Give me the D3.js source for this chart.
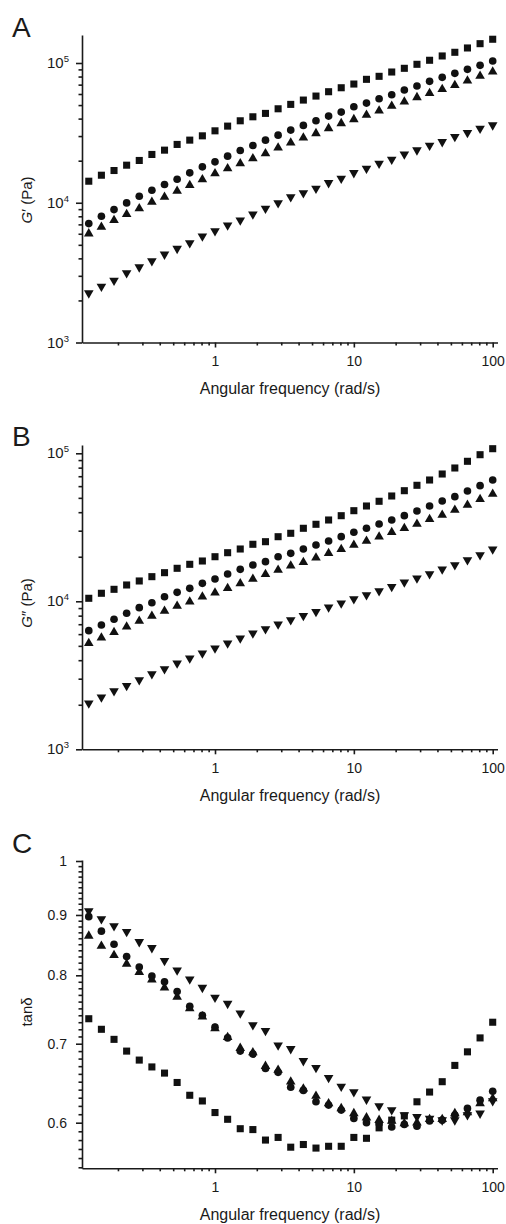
<!DOCTYPE html>
<html>
<head>
<meta charset="utf-8">
<script src="https://cdn.jsdelivr.net/npm/d3@7"></script>
<style>
  body { margin: 0; background: #fff; }
  svg text { font-family: "Liberation Sans", Arial, sans-serif; fill: #1a1a1a; }
</style>
</head>
<body>
<div id="chart"></div>
<script>
// Angular frequency (rad/s), 11 points per decade
const freq = [0.1233, 0.1520, 0.1874, 0.2310, 0.2848, 0.3511, 0.4329, 0.5337, 0.6579, 0.8111,
  1.000, 1.233, 1.520, 1.874, 2.310, 2.848, 3.511, 4.329, 5.337, 6.579, 8.111,
  10.00, 12.33, 15.20, 18.74, 23.10, 28.48, 35.11, 43.29, 53.37, 65.79, 81.11, 100.0];

// A: G' (Pa)
const gpSquare = [14260, 15740, 17010, 18570, 20070, 22160, 23790, 26140, 28060, 30120, 32710, 35350, 38590, 41220, 43590, 47030, 50570, 54290, 57990, 62300, 66510, 70710, 76410, 80290, 86200, 91620, 97880, 104600, 112300, 119300, 128100, 137500, 147900];
const gpCircle = [7094, 8002, 8940, 9968, 11130, 12290, 13510, 14740, 16360, 18060, 19620, 21540, 23670, 25700, 28060, 30470, 33090, 35760, 38590, 41700, 44540, 48610, 51680, 55470, 59270, 64070, 68420, 73920, 78990, 84390, 90110, 96270, 103350];
const gpUp = [6015, 6706, 7492, 8272, 9087, 10130, 11000, 12150, 13350, 14670, 16190, 17590, 19100, 20740, 22520, 24710, 26840, 29150, 31340, 34030, 36960, 39480, 42390, 45510, 49180, 52800, 56770, 60650, 64800, 69210, 74660, 80680, 86620];
const gpDown = [2256, 2520, 2782, 3140, 3465, 3826, 4273, 4695, 5149, 5753, 6278, 6898, 7492, 8272, 9087, 9968, 11000, 11760, 12640, 13870, 14910, 16360, 17590, 19100, 20400, 22270, 23790, 25700, 27280, 29630, 31650, 34030, 35940];

// B: G'' (Pa)
const gppSquare = [10480, 11330, 12050, 12890, 13720, 14670, 15610, 16710, 17780, 18720, 20010, 21300, 22560, 24280, 25280, 27320, 28810, 31140, 33140, 35430, 37880, 40950, 44050, 47400, 51470, 55890, 60790, 66000, 72460, 79570, 88300, 97840, 107420];
const gppCircle = [6330, 6917, 7558, 8298, 9053, 9783, 10740, 11500, 12240, 13230, 14150, 15290, 16450, 17590, 18520, 20010, 21100, 22560, 24010, 25550, 27320, 29260, 31140, 33290, 35430, 37880, 40750, 44050, 47610, 50910, 55640, 60410, 66000];
const gppUp = [5202, 5677, 6173, 6735, 7361, 7957, 8601, 9294, 9938, 10740, 11430, 12240, 13190, 14150, 15220, 16280, 17400, 18340, 19710, 21100, 22460, 24010, 25550, 27320, 29260, 31140, 33290, 35820, 38300, 41400, 44740, 48900, 53090];
const gppDown = [2046, 2246, 2477, 2690, 2939, 3227, 3488, 3811, 4120, 4452, 4813, 5202, 5623, 6078, 6499, 6992, 7474, 7993, 8505, 9109, 9694, 10360, 11030, 11740, 12550, 13440, 14300, 15290, 16450, 17590, 19010, 20550, 22460];

// C: tan delta
const tanSquare = [0.735, 0.720, 0.706, 0.690, 0.678, 0.669, 0.661, 0.649, 0.633, 0.626, 0.612, 0.604, 0.593, 0.592, 0.580, 0.583, 0.572, 0.575, 0.571, 0.573, 0.573, 0.583, 0.582, 0.594, 0.603, 0.608, 0.625, 0.637, 0.650, 0.671, 0.689, 0.708, 0.730];
const tanCircle = [0.897, 0.872, 0.850, 0.830, 0.813, 0.799, 0.790, 0.775, 0.753, 0.740, 0.723, 0.708, 0.690, 0.686, 0.667, 0.662, 0.643, 0.639, 0.625, 0.621, 0.615, 0.605, 0.600, 0.599, 0.595, 0.598, 0.596, 0.602, 0.603, 0.609, 0.617, 0.627, 0.638];
const tanUp = [0.864, 0.847, 0.832, 0.818, 0.805, 0.793, 0.781, 0.767, 0.750, 0.738, 0.721, 0.709, 0.694, 0.688, 0.670, 0.665, 0.650, 0.641, 0.632, 0.623, 0.617, 0.611, 0.606, 0.603, 0.602, 0.599, 0.600, 0.604, 0.604, 0.611, 0.612, 0.623, 0.629];
const tanDown = [0.907, 0.893, 0.881, 0.871, 0.854, 0.844, 0.823, 0.808, 0.794, 0.781, 0.766, 0.757, 0.743, 0.726, 0.718, 0.698, 0.693, 0.677, 0.668, 0.655, 0.644, 0.637, 0.628, 0.620, 0.615, 0.609, 0.607, 0.605, 0.603, 0.603, 0.609, 0.611, 0.626];

// Tick labels
const xTicks = [1, 10, 100];
const modTicks = [1e3, 1e4, 1e5];
const tanTicks = [0.6, 0.7, 0.8, 0.9, 1];

const svg = d3.select("#chart")
  .append("svg")
    .attr("width", 506)
    .attr("height", 1224);

// shared x scale: 1 rad/s at 215px, 100 rad/s at 492.7px
const left = 82, right = 497.5;
const xRef = d3.scaleLog().domain([1, 100]).range([215, 492.7]);
const x = d3.scaleLog()
  .domain([xRef.invert(left), xRef.invert(right)])
  .range([left, right]);

const panels = [
  { letter: "A", letterY: 37, top: 35, bottom: 342.5, refDomain: [1e3, 1e5], refRange: [342.5, 63],
    title: ["G", "\u2032 (Pa)"], titleY: 200, series: [gpSquare, gpCircle, gpUp, gpDown] },
  { letter: "B", letterY: 446, top: 445, bottom: 749.3, refDomain: [1e3, 1e5], refRange: [749.3, 453.3],
    title: ["G", "\u2033 (Pa)"], titleY: 603, series: [gppSquare, gppCircle, gppUp, gppDown] },
  { letter: "C", letterY: 853, top: 860, bottom: 1168.3, refDomain: [0.6, 1], refRange: [1122.7, 861],
    title: null, titleY: 1012, series: [tanSquare, tanCircle, tanUp, tanDown], tan: true }
];

const shapes = [
  { type: d3.symbolSquare, size: 50, rot: 0 },
  { type: d3.symbolCircle, size: 46, rot: 0 },
  { type: d3.symbolTriangle, size: 40, rot: 0 },
  { type: d3.symbolTriangle, size: 40, rot: 180 }
];

panels.forEach(p => {
  const yRef = d3.scaleLog().domain(p.refDomain).range(p.refRange);
  const y = d3.scaleLog()
    .domain([yRef.invert(p.bottom), yRef.invert(p.top)])
    .range([p.bottom, p.top]);

  const g = svg.append("g");

  // panel letter
  g.append("text")
    .attr("x", 12).attr("y", p.letterY)
    .style("font-size", "28px")
    .text(p.letter);

  // x axis: minor ticks, then major ticks with labels
  const xMinor = x.ticks().filter(v => !xTicks.includes(v));
  g.append("g")
    .attr("transform", `translate(0,${p.bottom})`)
    .call(d3.axisBottom(x).tickValues(xMinor).tickSize(3).tickFormat(""))
    .call(a => a.select(".domain").remove());
  const xa = g.append("g")
    .attr("transform", `translate(0,${p.bottom})`)
    .call(d3.axisBottom(x).tickValues(xTicks).tickSize(5).tickSizeOuter(0).tickPadding(9).tickFormat(d3.format("d")));
  xa.selectAll("text").style("font-size", "14px").attr("fill", "#1a1a1a");

  // y axis
  let yMinor, yMajor;
  if (p.tan) {
    yMajor = tanTicks;
    yMinor = d3.range(55, 100).map(v => v / 100).filter(v => !tanTicks.some(t => Math.abs(t - v) < 1e-9));
  } else {
    yMajor = modTicks;
    yMinor = y.ticks().filter(v => !modTicks.includes(v));
  }
  g.append("g")
    .attr("transform", `translate(${left},0)`)
    .call(d3.axisLeft(y).tickValues(yMinor).tickSize(3.5).tickFormat(""))
    .call(a => a.select(".domain").remove());
  g.append("g")
    .attr("transform", `translate(${left},0)`)
    .call(d3.axisLeft(y).tickValues(yMajor).tickSize(6).tickSizeOuter(0).tickFormat(""));

  if (p.tan) {
    g.selectAll(null).data(yMajor).join("text")
      .attr("x", 67).attr("y", d => y(d) + 5)
      .attr("text-anchor", "end")
      .style("font-size", "14px")
      .text(d => d === 1 ? "1" : d3.format(".1f")(d));
  } else {
    const lab = g.selectAll(null).data(yMajor).join("text")
      .attr("x", 69).attr("y", d => y(d) + 5)
      .attr("text-anchor", "end")
      .style("font-size", "15px");
    lab.append("tspan").text("10");
    lab.append("tspan").attr("dy", -6).style("font-size", "9.5px").text(d => Math.round(Math.log10(d)));
  }

  g.selectAll(".domain, .tick line").attr("stroke", "#1a1a1a").attr("stroke-width", 1.6);

  // axis titles
  g.append("text")
    .attr("x", 290).attr("y", p.bottom + 51.5)
    .attr("text-anchor", "middle")
    .style("font-size", "16px")
    .text("Angular frequency (rad/s)");

  const yt = g.append("text")
    .attr("transform", `translate(32,${p.titleY}) rotate(-90)`)
    .attr("text-anchor", "middle")
    .style("font-size", "15px");
  if (p.title) {
    yt.append("tspan").style("font-style", "italic").text(p.title[0]);
    yt.append("tspan").text(p.title[1]);
  } else {
    yt.text("tan\u03b4");
  }

  // markers
  p.series.forEach((vals, i) => {
    const s = shapes[i];
    g.append("g").selectAll("path")
      .data(vals)
      .join("path")
      .attr("d", d3.symbol().type(s.type).size(s.size))
      .attr("transform", (d, j) => `translate(${x(freq[j])},${y(d)}) rotate(${s.rot})`)
      .attr("fill", "#111");
  });
});
</script>
</body>
</html>
